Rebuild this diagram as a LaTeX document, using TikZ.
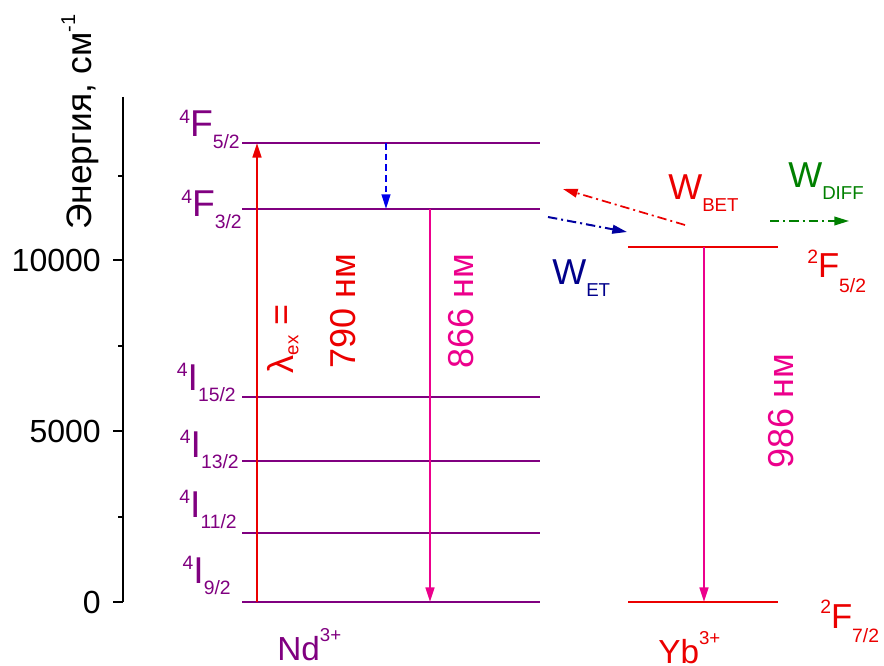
\documentclass[tikz,border=0pt]{standalone}
\usepackage{fontspec}
\setmainfont{Liberation Sans}
\usetikzlibrary{arrows.meta}
\definecolor{lvlc}{RGB}{128,0,128}
\definecolor{redc}{RGB}{235,0,0}
\definecolor{magc}{RGB}{236,0,140}
\definecolor{navyc}{RGB}{0,0,139}
\definecolor{bluec}{RGB}{0,0,235}
\definecolor{etc}{RGB}{0,0,160}
\definecolor{greenc}{RGB}{0,128,0}
\newcommand{\fs}[1]{\fontsize{#1}{#1}\selectfont}
\newcommand{\lvlterm}[3]{\raisebox{10pt}{\fs{14.5}#1}#2\raisebox{-8.5pt}{\fs{14.5}#3}}
\newcommand{\ybterm}[3]{\raisebox{11pt}{\fs{14.5}#1}#2\raisebox{-10.5pt}{\fs{14.5}#3}}
\newcommand{\wsub}[1]{W\raisebox{-9pt}{\fs{14}#1}}
\newcommand{\ionsup}[2]{#1\raisebox{14pt}{\fs{14}#2}}
\begin{document}
\begin{tikzpicture}[x=0.75pt,y=-0.75pt,
  axisline/.style={line width=1.5pt,black},
  level/.style={line width=2pt,lvlc},
  glevel/.style={line width=1pt,lvlc},
  yblevel/.style={line width=1.6pt,redc},
  ybground/.style={line width=1pt,redc},
  tip/.style={-{Triangle[length=11pt,width=6.5pt]}},
  ddash/.style={dash pattern=on 7pt off 3pt on 1.5pt off 3pt},
  lbl/.style={inner sep=0pt},
  lvltext/.style={lbl,text=lvlc,font=\fs{28},anchor=base east},
  ticktext/.style={lbl,font=\fs{24},anchor=east},
  nmtext/.style={lbl,font=\fs{27},rotate=90,anchor=base}]
\useasboundingbox (0,0) rectangle (884,666);

% axis
\coordinate (axT) at (123,97);
\coordinate (axB) at (123,602);
\draw[axisline] (axT) -- (axB);
\foreach \yy in {260,431,602} {\draw[axisline] (113,\yy) -- (123,\yy);}
\foreach \yy in {176,346,517} {\draw[axisline] (118,\yy) -- (123,\yy);}
\node[ticktext] (t10000) at (101,260) {10000};
\node[ticktext] (t5000) at (101,431) {5000};
\node[ticktext] (t0) at (101,602) {0};
\node[lbl,rotate=90,anchor=base west,font=\fs{26.5}] (ylab) at (91,230)
  {Энергия, см\raisebox{12pt}{\fs{15}-1}};

% Nd levels
\coordinate (F52L) at (242,143); \coordinate (F52R) at (540,143);
\coordinate (F32L) at (242,209); \coordinate (F32R) at (540,209);
\coordinate (I15L) at (242,397); \coordinate (I15R) at (540,397);
\coordinate (I13L) at (242,461); \coordinate (I13R) at (540,461);
\coordinate (I11L) at (242,533); \coordinate (I11R) at (540,533);
\coordinate (I9L) at (242,602);  \coordinate (I9R) at (540,602);
\draw[level] (F52L) -- (F52R);
\draw[level] (F32L) -- (F32R);
\draw[level] (I15L) -- (I15R);
\draw[level] (I13L) -- (I13R);
\draw[level] (I11L) -- (I11R);
\draw[glevel] (I9L) -- (I9R);

\node[lvltext] (lF52) at (240,137) {\lvlterm{4}{F}{5/2}};
\node[lvltext] (lF32) at (242,217) {\lvlterm{4}{F}{3/2}};
\node[lvltext] (lI15) at (236,390) {\lvlterm{4}{I}{15/2}};
\node[lvltext] (lI13) at (239,457) {\lvlterm{4}{I}{13/2}};
\node[lvltext] (lI11) at (237,517) {\lvlterm{4}{I}{11/2}};
\node[lvltext] (lI9) at (231,583) {\lvlterm{4}{I}{9/2}};

% Nd transitions
\coordinate (exB) at (257,602); \coordinate (exT) at (257,143);
\draw[redc,line width=1.9pt,tip] (exB) -- (exT);
\coordinate (nrT) at (386,143); \coordinate (nrB) at (386,209);
\draw[bluec,line width=1.6pt,dash pattern=on 5pt off 3pt,tip] (nrT) -- (nrB);
\coordinate (emT) at (430,209); \coordinate (emB) at (430,602);
\draw[magc,line width=1.9pt,tip] (emT) -- (emB);

\node[nmtext,text=redc] (lam) at (293,339)
  {λ\raisebox{-4pt}{\fs{14}ex} =};
\node[nmtext,text=redc] (n790) at (355,311) {790 нм};
\node[nmtext,text=magc] (n866) at (473,311) {866 нм};

% Yb levels
\coordinate (Y52L) at (628,247); \coordinate (Y52R) at (778,247);
\coordinate (Y72L) at (628,602); \coordinate (Y72R) at (778,602);
\draw[yblevel] (Y52L) -- (Y52R);
\draw[ybground] (Y72L) -- (Y72R);
\coordinate (ybT) at (704,247); \coordinate (ybB) at (704,602);
\draw[magc,line width=1.9pt,tip] (ybT) -- (ybB);
\node[nmtext,text=magc] (n986) at (793,411) {986 нм};

\node[lbl,text=redc,font=\fs{26},anchor=base west] (lY52) at (807,278) {\ybterm{2}{F}{5/2}};
\node[lbl,text=redc,font=\fs{26},anchor=base west] (lY72) at (820,628) {\ybterm{2}{F}{7/2}};

% energy transfer
\coordinate (etA) at (548,217); \coordinate (etB) at (627,232);
\draw[etc,line width=1.5pt,ddash,tip] (etA) -- (etB);
\coordinate (betA) at (685,225); \coordinate (betB) at (563,189);
\draw[redc,line width=1.3pt,ddash,tip] (betA) -- (betB);
\coordinate (difA) at (770,221); \coordinate (difB) at (849,221);
\draw[greenc,line width=1.3pt,ddash,tip] (difA) -- (difB);

\node[lbl,text=navyc,font=\fs{27},anchor=base west] (wet) at (552,285) {\wsub{ET}};
\node[lbl,text=redc,font=\fs{27},anchor=base west] (wbet) at (668,200) {\wsub{BET}};
\node[lbl,text=greenc,font=\fs{27},anchor=base west] (wdiff) at (788,188) {\wsub{DIFF}};

% ions
\node[lbl,text=lvlc,font=\fs{25},anchor=base west] (nd) at (277,660) {\ionsup{Nd}{3+}};
\node[lbl,text=redc,font=\fs{25},anchor=base west] (yb) at (658,663) {\ionsup{Yb}{3+}};
\end{tikzpicture}
\end{document}
